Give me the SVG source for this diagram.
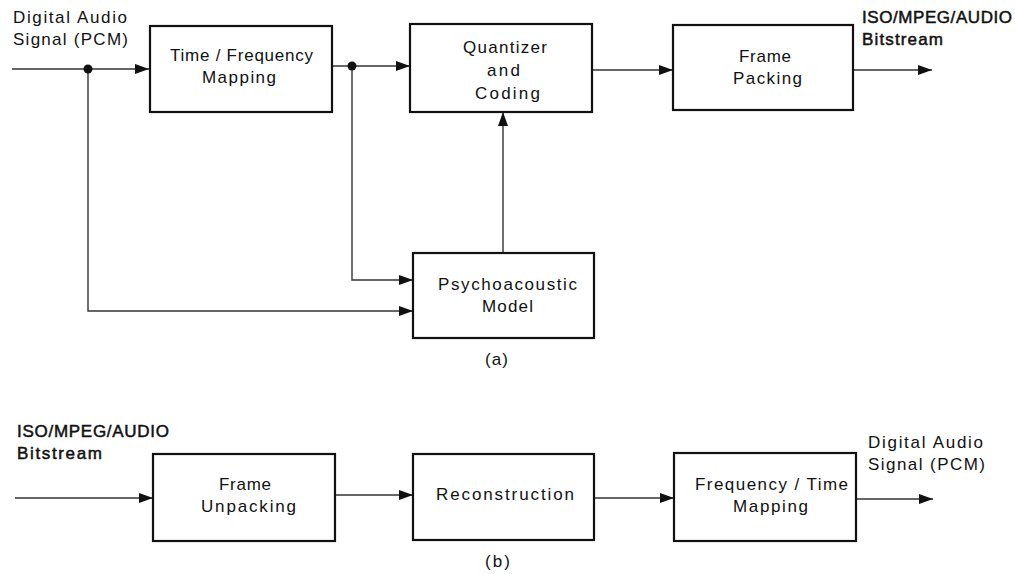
<svg xmlns="http://www.w3.org/2000/svg" width="1015" height="574" viewBox="0 0 1015 574">
<defs>
<style>
.box{fill:#fff;stroke:#111;stroke-width:2.2}
.t{font-family:"Liberation Sans",Arial,sans-serif;font-size:17px;fill:#111}
.b{stroke:#111;stroke-width:0.5}
.c{fill:none;stroke:#333;stroke-width:1.4}
</style>
<marker id="ah" markerUnits="userSpaceOnUse" markerWidth="16" markerHeight="12" refX="14" refY="6" orient="auto">
<path d="M0,1 L14,6 L0,11 z" fill="#111"/>
</marker>
</defs>
<rect width="1015" height="574" fill="#fff"/>
<g id="connectors">
<path class="c" d="M12,69 H149" marker-end="url(#ah)"/>
<path class="c" d="M88,69 V311 H413" marker-end="url(#ah)"/>
<path class="c" d="M332,66 H410" marker-end="url(#ah)"/>
<path class="c" d="M352,66 V280 H413" marker-end="url(#ah)"/>
<path class="c" d="M503,253 V112" marker-end="url(#ah)"/>
<path class="c" d="M592,70 H673" marker-end="url(#ah)"/>
<path class="c" d="M853,70 H932" marker-end="url(#ah)"/>
<path class="c" d="M15,498 H153" marker-end="url(#ah)"/>
<path class="c" d="M335,495 H413" marker-end="url(#ah)"/>
<path class="c" d="M594,498 H674" marker-end="url(#ah)"/>
<path class="c" d="M856,499 H933" marker-end="url(#ah)"/>
<circle cx="88" cy="69" r="4.5" fill="#111"/>
<circle cx="352" cy="66" r="4.5" fill="#111"/>
</g>
<g id="labels">
<text class="t" x="13" y="23" textLength="114" lengthAdjust="spacing">Digital Audio</text>
<text class="t" x="13" y="45" textLength="115" lengthAdjust="spacing">Signal (PCM)</text>
<text class="t b" x="862" y="23" textLength="150" lengthAdjust="spacing">ISO/MPEG/AUDIO</text>
<text class="t b" x="862" y="45" textLength="81" lengthAdjust="spacing">Bitstream</text>
<text class="t" x="485" y="365" textLength="23" lengthAdjust="spacing">(a)</text>
<text class="t b" x="17" y="437" textLength="152" lengthAdjust="spacing">ISO/MPEG/AUDIO</text>
<text class="t b" x="17" y="459" textLength="85" lengthAdjust="spacing">Bitstream</text>
<text class="t" x="868" y="448" textLength="115" lengthAdjust="spacing">Digital Audio</text>
<text class="t" x="868" y="470" textLength="117" lengthAdjust="spacing">Signal (PCM)</text>
<text class="t" x="485" y="567" textLength="25" lengthAdjust="spacing">(b)</text>
</g>
<g id="tf">
<rect class="box" x="150" y="26" width="182" height="86"/>
<text class="t" x="170" y="61" textLength="143" lengthAdjust="spacing">Time / Frequency</text>
<text class="t" x="202" y="83" textLength="74" lengthAdjust="spacing">Mapping</text>
</g>
<g id="quant">
<rect class="box" x="410" y="24" width="182" height="88"/>
<text class="t" x="463" y="53" textLength="84" lengthAdjust="spacing">Quantizer</text>
<text class="t" x="487" y="76" textLength="33" lengthAdjust="spacing">and</text>
<text class="t" x="475" y="99" textLength="65" lengthAdjust="spacing">Coding</text>
</g>
<g id="fpack">
<rect class="box" x="673" y="25" width="180" height="85"/>
<text class="t" x="739" y="62" textLength="52" lengthAdjust="spacing">Frame</text>
<text class="t" x="733" y="84" textLength="69" lengthAdjust="spacing">Packing</text>
</g>
<g id="psy">
<rect class="box" x="413" y="253" width="181" height="85"/>
<text class="t" x="438" y="290" textLength="139" lengthAdjust="spacing">Psychoacoustic</text>
<text class="t" x="482" y="312" textLength="51" lengthAdjust="spacing">Model</text>
</g>
<g id="funpack">
<rect class="box" x="153" y="454" width="182" height="87"/>
<text class="t" x="219" y="490" textLength="52" lengthAdjust="spacing">Frame</text>
<text class="t" x="201" y="512" textLength="95" lengthAdjust="spacing">Unpacking</text>
</g>
<g id="recon">
<rect class="box" x="413" y="454" width="181" height="86"/>
<text class="t" x="436" y="500" textLength="138" lengthAdjust="spacing">Reconstruction</text>
</g>
<g id="ft">
<rect class="box" x="674" y="453" width="182" height="88"/>
<text class="t" x="695" y="490" textLength="153" lengthAdjust="spacing">Frequency / Time</text>
<text class="t" x="733" y="512" textLength="75" lengthAdjust="spacing">Mapping</text>
</g>
</svg>
